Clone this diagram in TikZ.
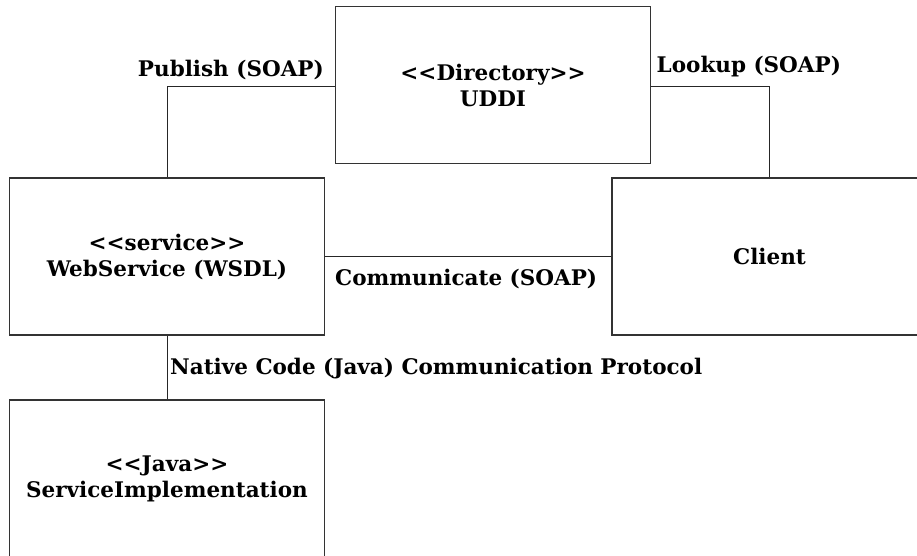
\documentclass[tikz,border=0pt]{standalone}
\usepackage{fontspec}
\newfontfamily\dv{DejaVu Serif}
\begin{document}
\begin{tikzpicture}[x=1pt,y=-1pt,
  every node/.style={font=\dv\bfseries\fontsize{21.5}{26}\selectfont, inner sep=0pt},
  box/.style={draw=black!80, line width=1.1pt, minimum width=315pt, minimum height=157pt, align=center, fill=white},
  conn/.style={draw=black!85, line width=0.8pt},
  lbl/.style={text=black}]
\useasboundingbox (0,0) rectangle (917,555);
\begin{scope}
\clip (0,0) rectangle (917,555);
\node[box] (uddi) at (493,85) {<<Directory>>\\UDDI};
\node[box] (ws) at (167,256.5) {<<service>>\\WebService (WSDL)};
\node[box] (client) at (769.5,256.5) {Client};
\node[box] (impl) at (167,478.5) {<<Java>>\\ServiceImplementation};
\end{scope}
\coordinate (pub) at (167.5,86);
\coordinate (look) at (769.3,86);
\draw[conn] (uddi.west |- pub) -- (pub) -- (pub |- ws.north);
\draw[conn] (uddi.east |- look) -- (look) -- (look |- client.north);
\draw[conn] (ws.east) -- (client.west);
\draw[conn] (ws.south -| pub) -- (impl.north -| pub);
\node[lbl, anchor=base east] (lp) at (324,76) {Publish (SOAP)};
\node[lbl, anchor=base west] (ll) at (656.5,72.7) {Lookup (SOAP)};
\node[lbl, anchor=base west] (lc) at (335,285) {Communicate (SOAP)};
\node[lbl, anchor=base west] (ln) at (170,374) {Native Code (Java) Communication Protocol};
\end{tikzpicture}
\end{document}
